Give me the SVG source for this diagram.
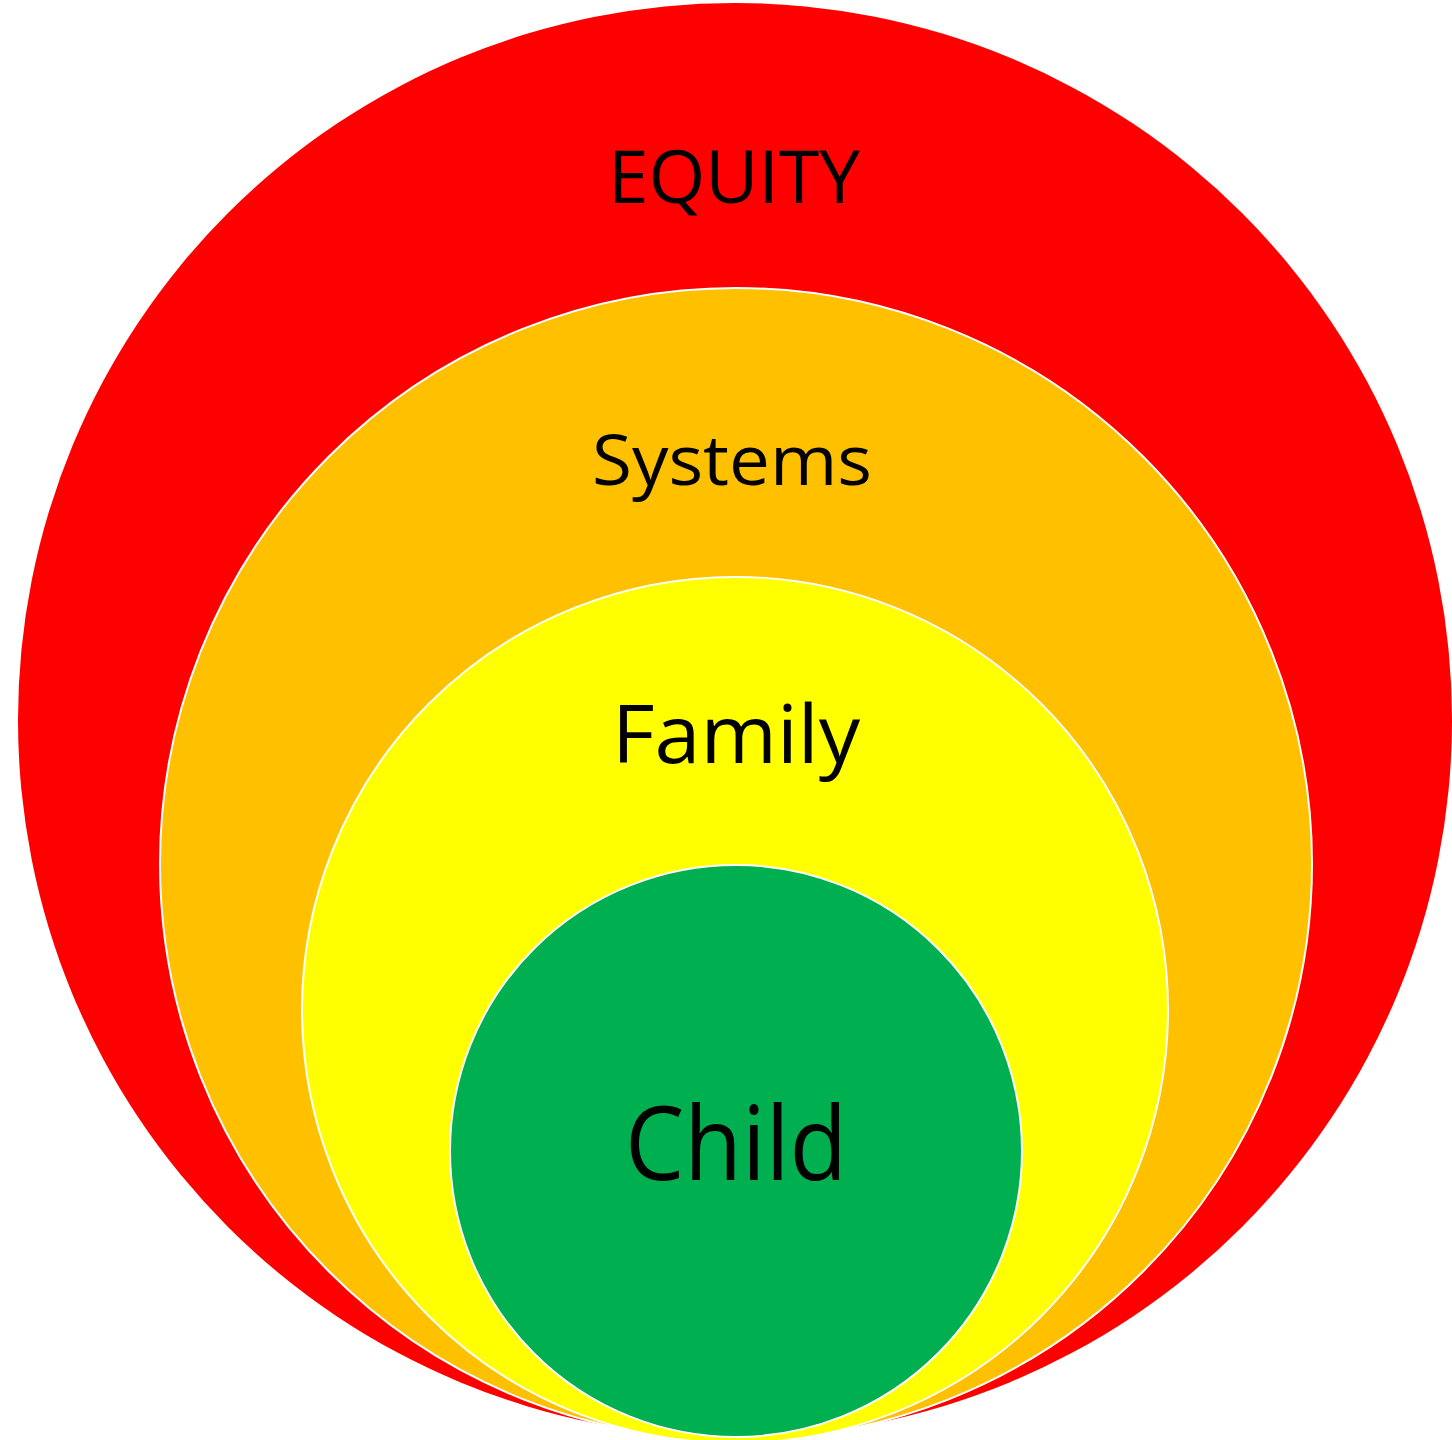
<svg xmlns="http://www.w3.org/2000/svg" width="1452" height="1440" viewBox="0 0 1452 1440">
<style>
.lbl{font-family:"Open Sans","Liberation Sans",sans-serif;fill:#000;text-anchor:middle}
.ring{stroke:#fff;stroke-width:2}
</style>
<rect width="1452" height="1440" fill="#fff"/>
<g id="equity"><circle cx="735" cy="720" r="717" fill="#FF0000"/><text class="lbl" x="734" y="203" font-size="74" textLength="252" lengthAdjust="spacingAndGlyphs">EQUITY</text></g>
<g id="systems"><circle class="ring" cx="736" cy="864" r="576" fill="#FFC000"/><text class="lbl" x="732" y="485" font-size="70" textLength="280" lengthAdjust="spacingAndGlyphs">Systems</text></g>
<g id="family"><circle class="ring" cx="735" cy="1010" r="433" fill="#FFFF00"/><text class="lbl" x="736" y="763" font-size="81" textLength="248" lengthAdjust="spacingAndGlyphs">Family</text></g>
<g id="child"><circle class="ring" cx="736" cy="1151" r="286" fill="#00B050"/><text class="lbl" x="736" y="1180" font-size="102" textLength="222" lengthAdjust="spacingAndGlyphs">Child</text></g>
<g id="connectors"/>
</svg>
